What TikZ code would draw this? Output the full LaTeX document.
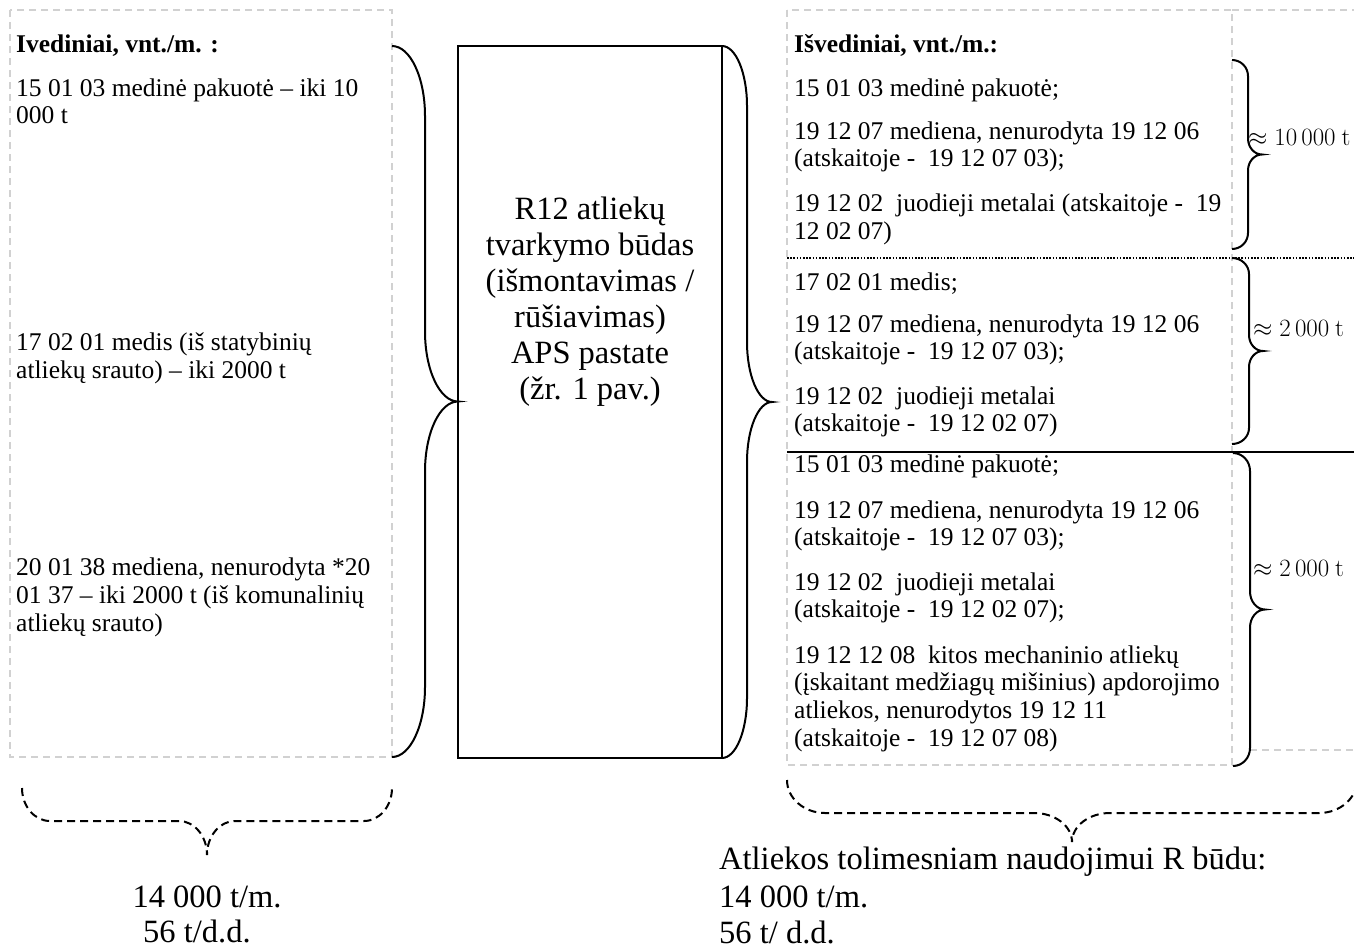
\documentclass[tikz,border=0pt]{standalone}
\usepackage[no-math]{fontspec}
\setmainfont{Liberation Serif}
\newcommand\tfont{\fontsize{25.5}{28}\selectfont}
\newcommand\bfont{\fontsize{32.5}{36}\selectfont}
\newcommand\mfont{\fontsize{24}{26}\selectfont}
% vertical brace pointing right: [opt]{x0}{ytop}{ybot}{xv}{xt}{c}
\newcommand\WBrace[7][]{%
 \pgfmathsetmacro\wbym{(#3+#4)/2}%
 \pgfmathsetmacro\wbca{#2+0.552*(#5-#2)}%
 \pgfmathsetmacro\wbcb{#5+0.448*(#6-#5)}%
 \pgfmathsetmacro\wbyb{\wbym-#7}\pgfmathsetmacro\wbybb{\wbym-0.448*#7}%
 \pgfmathsetmacro\wbyc{\wbym+#7}\pgfmathsetmacro\wbycc{\wbym+0.448*#7}%
 \draw[#1] (#2,#3) .. controls (\wbca,#3) and (#5,#3+0.448*#7) .. (#5,#3+#7)
   -- (#5,\wbyb) .. controls (#5,\wbybb) and (\wbcb,\wbym) .. (#6,\wbym)
   .. controls (\wbcb,\wbym) and (#5,\wbycc) .. (#5,\wbyc)
   -- (#5,#4-#7) .. controls (#5,#4-0.448*#7) and (\wbca,#4) .. (#2,#4);%
}
% horizontal brace pointing down: [opt]{y0}{xl}{xr}{yh}{yt}{c}
\newcommand\HBrace[7][]{%
 \pgfmathsetmacro\hbxm{(#3+#4)/2}%
 \pgfmathsetmacro\hbya{#2+0.552*(#5-#2)}%
 \pgfmathsetmacro\hbyb{#5+0.448*(#6-#5)}%
 \pgfmathsetmacro\hbxa{\hbxm-#7}\pgfmathsetmacro\hbxaa{\hbxm-0.448*#7}%
 \pgfmathsetmacro\hbxb{\hbxm+#7}\pgfmathsetmacro\hbxbb{\hbxm+0.448*#7}%
 \draw[#1] (#3,#2) .. controls (#3,\hbya) and (#3+0.448*#7,#5) .. (#3+#7,#5)
   -- (\hbxa,#5) .. controls (\hbxaa,#5) and (\hbxm,\hbyb) .. (\hbxm,#6)
   .. controls (\hbxm,\hbyb) and (\hbxbb,#5) .. (\hbxb,#5)
   -- (#4-#7,#5) .. controls (#4-0.448*#7,#5) and (#4,\hbya) .. (#4,#2);%
}
\begin{document}
\begin{tikzpicture}[x=1pt,y=-1pt,
  txt/.style={anchor=base west, inner sep=0pt, font=\tfont},
  hdr/.style={anchor=base west, inner sep=0pt, font=\tfont\bfseries},
  big/.style={anchor=base, inner sep=0pt, font=\bfont},
  bigw/.style={anchor=base west, inner sep=0pt, font=\bfont},
  qty/.style={anchor=west, inner sep=0pt, font=\mfont},
  gdash/.style={draw=black!18, line width=1.5pt, dash pattern=on 7pt off 5pt},
  brc/.style={line width=2pt},
  dbrc/.style={line width=2pt, dash pattern=on 8pt off 5pt},
  procbox/.style={draw, line width=2pt, minimum width=264pt, minimum height=712pt, inner sep=0pt}]
\useasboundingbox (0,0) rectangle (1354,948);

% light dashed frames
\draw[gdash] (10,10) rectangle (392,757);
\draw[gdash] (787,10) rectangle (1232,765);
\draw[gdash] (1232,10) -- (1354,10);
\draw[gdash] (1250,750) -- (1354,750);

% separators on the right
\draw[line width=1.6pt, dash pattern=on 1.6pt off 1.6pt] (787,258) -- (1354,258);
\draw[line width=1.6pt] (787,452) -- (1354,452);

% process box
\node[procbox] (proc) at (590,402) {};

% braces
\WBrace[brc]{392}{46}{757}{425}{458}{70}
\WBrace[brc]{722}{46}{758}{747}{772}{60}
\WBrace[brc]{1232}{60}{249}{1248}{1262}{16}
\WBrace[brc]{1232}{258}{444}{1249}{1263}{16}
\WBrace[brc]{1233}{453}{766}{1250}{1265}{18}
\HBrace[dbrc]{788}{22}{392}{821}{855}{28}
\HBrace[dbrc]{780}{787}{1357}{813}{842}{38}

% left inputs
\node[hdr] (inh) at (16,52) {Ivediniai, vnt./m. :};
\node[txt] (in1a) at (16,96) {15 01 03 medinė pakuotė – iki 10};
\node[txt] (in1b) at (16,123) {000 t};
\node[txt] (in2a) at (16,350) {17 02 01 medis (iš statybinių};
\node[txt] (in2b) at (16,378) {atliekų srauto) – iki 2000 t};
\node[txt] (in3a) at (16,575) {20 01 38 mediena, nenurodyta *20};
\node[txt] (in3b) at (16,603) {01 37 – iki 2000 t (iš komunalinių};
\node[txt] (in3c) at (16,631) {atliekų srauto)};

% process text
\node[big] (p1) at (590,219) {R12 atliekų};
\node[big] (p2) at (590,255) {tvarkymo būdas};
\node[big] (p3) at (590,291) {(išmontavimas /};
\node[big] (p4) at (590,327) {rūšiavimas)};
\node[big] (p5) at (590,363) {APS pastate};
\node[big] (p6) at (590,399) {(žr. 1 pav.)};

% right outputs
\node[hdr] (outh) at (794,52) {Išvediniai, vnt./m.:};
\node[txt] (a1) at (794,96) {15 01 03 medinė pakuotė;};
\node[txt] (a2) at (794,139) {19 12 07 mediena, nenurodyta 19 12 06};
\node[txt] (a3) at (794,166) {(atskaitoje -\ \ 19 12 07 03);};
\node[txt] (a4) at (794,211) {19 12 02\ \ juodieji metalai (atskaitoje -\ \ 19};
\node[txt] (a5) at (794,239) {12 02 07)};
\node[txt] (b1) at (794,290) {17 02 01 medis;};
\node[txt] (b2) at (794,332) {19 12 07 mediena, nenurodyta 19 12 06};
\node[txt] (b3) at (794,359) {(atskaitoje -\ \ 19 12 07 03);};
\node[txt] (b4) at (794,404) {19 12 02\ \ juodieji metalai};
\node[txt] (b5) at (794,431) {(atskaitoje -\ \ 19 12 02 07)};
\node[txt] (c1) at (794,472) {15 01 03 medinė pakuotė;};
\node[txt] (c2) at (794,518) {19 12 07 mediena, nenurodyta 19 12 06};
\node[txt] (c3) at (794,545) {(atskaitoje -\ \ 19 12 07 03);};
\node[txt] (c4) at (794,590) {19 12 02\ \ juodieji metalai};
\node[txt] (c5) at (794,617) {(atskaitoje -\ \ 19 12 02 07);};
\node[txt] (c6) at (794,663) {19 12 12 08\ \ kitos mechaninio atliekų};
\node[txt] (c7) at (794,690) {(įskaitant medžiagų mišinius) apdorojimo};
\node[txt] (c8) at (794,718) {atliekos, nenurodytos 19 12 11};
\node[txt] (c9) at (794,746) {(atskaitoje -\ \ 19 12 07 08)};

% quantities
\node[qty] (q1) at (1248,137) {$\approx 10\,000\ \mathrm{t}$};
\node[qty] (q2) at (1253,328) {$\approx 2\,000\ \mathrm{t}$};
\node[qty] (q3) at (1253,568) {$\approx 2\,000\ \mathrm{t}$};

% totals
\node[big] (tl1) at (207,907) {14 000 t/m.};
\node[bigw] (tl2) at (143,942) {56 t/d.d.};
\node[bigw] (tr1) at (719,869) {Atliekos tolimesniam naudojimui R būdu:};
\node[bigw] (tr2) at (719,907) {14 000 t/m.};
\node[bigw] (tr3) at (719,943) {56 t/ d.d.};
\end{tikzpicture}
\end{document}
